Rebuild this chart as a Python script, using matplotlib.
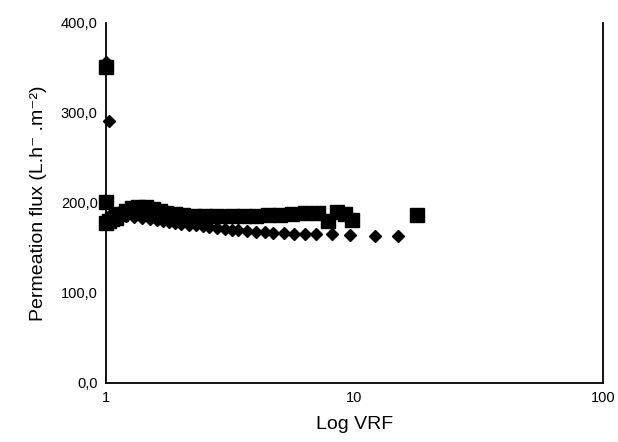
import matplotlib
matplotlib.use("Agg")
import matplotlib.pyplot as plt
from matplotlib.ticker import FuncFormatter

# squares series
sq_x = [1.0, 1.0, 1.0, 1.03, 1.06, 1.1, 1.15, 1.2, 1.27, 1.35, 1.45, 1.55, 1.65, 1.75,
        1.9, 2.05, 2.25, 2.5, 2.8, 3.2, 3.6, 4.0, 4.5, 5.0, 5.6, 6.3, 7.1, 7.8, 8.5,
        9.2, 9.8, 17.8]
sq_y = [351, 201, 178, 180, 182, 183, 188, 191, 194, 196, 195, 193, 191, 189,
        188, 187, 186, 185, 185, 185, 186, 186, 187, 187, 188, 189, 189, 180, 190,
        188, 181, 187]

# diamonds series
di_x = [1.0, 1.03, 1.05, 1.1, 1.15, 1.2, 1.3, 1.4, 1.5, 1.6, 1.7, 1.8, 1.9, 2.0,
        2.15, 2.3, 2.45, 2.6, 2.8, 3.0, 3.2, 3.4, 3.7, 4.0, 4.35, 4.7, 5.2, 5.7,
        6.3, 7.0, 8.1, 9.6, 12.1, 15.0]
di_y = [357, 291, 188, 187, 186, 185, 184, 183, 182, 181, 180, 179, 178, 177,
        176, 175, 174, 173, 172, 171, 170, 170, 169, 168, 168, 167, 167, 166,
        166, 165, 165, 164, 163, 163]

y_ticks = [0, 100, 200, 300, 400]
x_ticks = [1, 10, 100]

fam = ['Liberation Sans', 'DejaVu Sans']
plt.rcParams['font.family'] = fam

fig = plt.figure(figsize=(6.18, 4.42), dpi=100)
ax = fig.add_axes([0.1715, 0.1335, 0.8042, 0.8145])

ax.plot(sq_x, sq_y, linestyle='none', marker='s', markersize=9.5, color='black', clip_on=False)
ax.plot(di_x, di_y, linestyle='none', marker='D', markersize=6, color='black', clip_on=False)

ax.set_xscale('log')
ax.set_xlim(1, 100)
ax.set_ylim(0, 400)
ax.set_xticks(x_ticks)
ax.xaxis.set_major_formatter(FuncFormatter(lambda v, p: '%d' % v))
ax.xaxis.set_minor_locator(matplotlib.ticker.NullLocator())
ax.set_yticks(y_ticks)
ax.yaxis.set_major_formatter(FuncFormatter(lambda v, p: ('%.1f' % v).replace('.', ',')))
ax.tick_params(length=0, labelsize=10.5, pad=6)
ax.spines['top'].set_visible(False)
for s in ['left', 'right', 'bottom']:
    ax.spines[s].set_linewidth(1.3)

ax.set_xlabel('Log VRF', fontsize=14, labelpad=8)
ax.set_ylabel('Permeation flux (L.h\u207b .m\u207b\u00b2)', fontsize=14, labelpad=10)

fig.savefig('out.png', dpi=100)
